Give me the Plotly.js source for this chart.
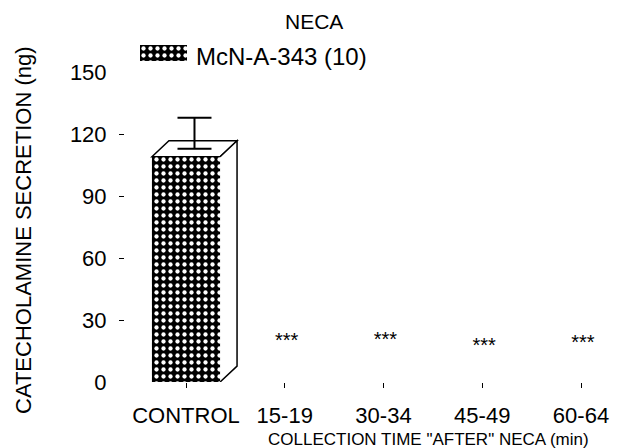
<!DOCTYPE html>
<html>
<head>
<meta charset="utf-8">
<script src="https://cdn.plot.ly/plotly-3.0.1.min.js"></script>
<style>html,body{margin:0;padding:0;background:#fff;}#chart{width:625px;height:448px;}</style>
</head>
<body>
<div id="chart"></div>
<script>
// ---- data ----
const categories = ['CONTROL', '15-19', '30-34', '45-49', '60-64'];
const secretion = [109, 0, 0, 0, 0];          // ng
const secretionSD = [15, 0, 0, 0, 0];
const significance = ['', '***', '***', '***', '***'];
const significanceY = [null, 21.8, 22.3, 19.4, 20.8];
const yTickVals = [30, 60, 90, 120];
const yEdgeTickVals = [0, 150];
const seriesName = 'McN-A-343 (10)';

// ---- style ----
const W = 625, H = 448;
const FONT = 'Liberation Sans, Arial, sans-serif';
const px = (v) => v / W, py = (v) => 1 - v / H;
const idx = categories.map((c, i) => i);
const barWidth = 0.69;
const depthX = 0.172, depthY = 7.7;
const starOffset = -2.6;   // glyph sits high in its line box
const pattern = {shape: '.', fgcolor: 'white', bgcolor: 'black', size: 7, solidity: 0.3, fillmode: 'replace'};

const traces = [];
traces.push({
  type: 'bar', x: idx, y: secretion, width: barWidth,
  marker: {color: 'black', pattern: pattern, line: {width: 0}},
  xaxis: 'x', yaxis: 'y', showlegend: false, hoverinfo: 'skip'
});
// error bars drawn at the centre of the 3-D top face
const ex = [], ey = [], ea = [];
idx.forEach(i => { if (secretionSD[i] > 0) { ex.push(i + depthX / 2); ey.push(secretion[i] + depthY / 2); ea.push(secretionSD[i]); } });
traces.push({
  type: 'scatter', mode: 'markers', x: ex, y: ey,
  marker: {size: 1, opacity: 0},
  error_y: {type: 'data', array: ea, arrayminus: ea.map(() => 0), symmetric: false, color: 'black', thickness: 2, width: 17},
  xaxis: 'x', yaxis: 'y', showlegend: false, hoverinfo: 'skip'
});
// significance stars
traces.push({
  type: 'scatter', mode: 'text', x: idx.map(i => i + 0.02),
  y: significanceY.map(v => v === null ? null : v + starOffset), text: significance,
  textposition: 'middle center', textfont: {family: FONT, size: 20, color: 'black'},
  xaxis: 'x', yaxis: 'y3', showlegend: false, hoverinfo: 'skip'
});
// legend swatch
traces.push({
  type: 'bar', x: [0], y: [1], width: 1,
  marker: {color: 'black', pattern: pattern, line: {width: 0}},
  xaxis: 'x2', yaxis: 'y2', showlegend: false, hoverinfo: 'skip'
});

// 3-D box faces built from bar values
const shapes = [];
idx.forEach(i => {
  const v = secretion[i];
  if (v <= 0) return;
  const l = i - barWidth / 2, r = i + barWidth / 2;
  shapes.push({type: 'path', xref: 'x', yref: 'y', layer: 'below',
    path: `M${l},${v}L${l + depthX},${v + depthY}L${r + depthX},${v + depthY}L${r},${v}Z`,
    fillcolor: 'white', line: {color: 'black', width: 1.5}});
  shapes.push({type: 'path', xref: 'x', yref: 'y', layer: 'below',
    path: `M${r},${v}L${r + depthX},${v + depthY}L${r + depthX},${depthY}L${r},0`,
    fillcolor: 'white', line: {color: 'black', width: 1.5}});
});

const xDomain = [125 / W, 615 / W];
const xUnit = 98.75;
const layout = {
  width: W, height: H,
  margin: {l: 0, r: 0, t: 0, b: 0},
  paper_bgcolor: 'white', plot_bgcolor: 'white',
  font: {family: FONT, color: 'black'},
  showlegend: false, hovermode: false,
  xaxis: {
    domain: xDomain, range: [-61 / xUnit, 4 + 34 / xUnit],
    tickmode: 'array', tickvals: idx, ticktext: categories,
    ticks: 'outside', ticklen: 5, tickwidth: 1, tickcolor: 'black',
    tickfont: {family: FONT, size: 22, color: 'black'}, ticklabelstandoff: 9,
    showline: false, showgrid: false, zeroline: false, fixedrange: true
  },
  yaxis: {
    domain: [(H - 382) / H, (H - 72) / H], range: [0, 150],
    tickmode: 'array', tickvals: yTickVals,
    ticks: 'outside', ticklen: 5, tickwidth: 1, tickcolor: 'black',
    tickfont: {family: FONT, size: 22, color: 'black'}, ticklabelstandoff: 8,
    showline: false, showgrid: false, zeroline: false, fixedrange: true
  },
  yaxis3: {
    overlaying: 'y', side: 'left', range: [0, 150],
    tickmode: 'array', tickvals: yEdgeTickVals,
    ticks: 'outside', ticklen: 5, tickcolor: 'rgba(0,0,0,0)',
    tickfont: {family: FONT, size: 22, color: 'black'}, ticklabelstandoff: 8,
    showline: false, showgrid: false, zeroline: false, fixedrange: true
  },
  xaxis2: {domain: [140 / W, 187 / W], range: [-0.5, 0.5], anchor: 'y2', visible: false, fixedrange: true},
  yaxis2: {domain: [py(61), py(45)], range: [0, 1], anchor: 'x2', visible: false, fixedrange: true},
  shapes: shapes,
  annotations: [
    {text: 'NECA', xref: 'paper', yref: 'paper', x: px(314), y: py(21.5), xanchor: 'center', yanchor: 'middle', showarrow: false, font: {family: FONT, size: 21}},
    {text: seriesName, xref: 'paper', yref: 'paper', x: px(194), y: py(56), xanchor: 'left', yanchor: 'middle', showarrow: false, font: {family: FONT, size: 24}},
    {text: 'COLLECTION TIME "AFTER" NECA (min)', xref: 'paper', yref: 'paper', x: px(428), y: py(439), xanchor: 'center', yanchor: 'middle', showarrow: false, font: {family: FONT, size: 17}},
    {text: 'CATECHOLAMINE SECRETION (ng)', xref: 'paper', yref: 'paper', x: px(24), y: py(230), xanchor: 'center', yanchor: 'middle', textangle: -90, showarrow: false, font: {family: FONT, size: 22}}
  ]
};

Plotly.newPlot('chart', traces, layout, {displayModeBar: false, staticPlot: true});
</script>
</body>
</html>
